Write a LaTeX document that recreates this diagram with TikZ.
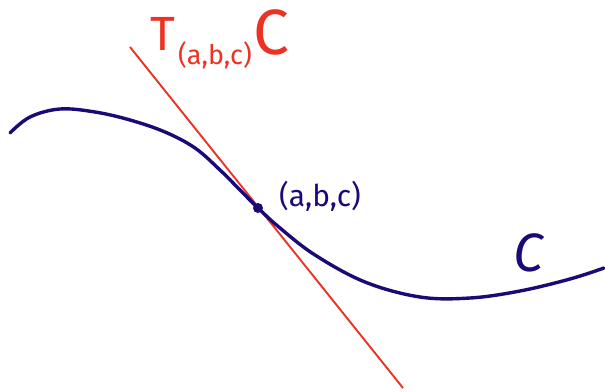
\documentclass[tikz,border=0pt]{standalone}
\usepackage{fontspec}
\setmainfont{Fira Sans}
\begin{document}
\begin{tikzpicture}[x=1pt,y=-1pt,
  curvecol/.style={draw=navyc, line width=3.4pt, line cap=round},
  tanline/.style={draw=redc, line width=1.9pt},
  lbl/.style={inner sep=0pt}]
\definecolor{navyc}{RGB}{25,10,120}
\definecolor{redc}{RGB}{235,50,35}
\useasboundingbox (0,0) rectangle (605,391);
\coordinate (t1) at (130,47);
\coordinate (t2) at (403,388);
\draw[tanline] (t1) -- (t2);
\draw[curvecol] plot[smooth, tension=0.6] coordinates {(10,133) (30,117) (60,109) (95,112) (130,120) (165,132) (195,148) (220,170) (240,190) (258,208) (280,228) (315,255) (365,282) (420,297) (470,298) (520,291) (570,279) (604,268)};
\node[circle, fill=navyc, inner sep=0pt, minimum size=10pt] (p) at (258,208) {};
\node[lbl, text=redc, anchor=base west] (tT) at (150,50) {\fontsize{48}{48}\selectfont T};
\node[lbl, text=redc, anchor=base west] (tsub) at (178,64) {\fontsize{27}{27}\selectfont (a,b,c)};
\node[lbl, text=redc, anchor=base west] (tC) at (253,54) {\fontsize{64}{64}\selectfont C};
\node[lbl, text=navyc, anchor=west] (pl) at (279,196) {\fontsize{30}{30}\selectfont (a,b,c)};
\node[lbl, text=navyc] (cl) at (528,253) {\fontsize{54}{54}\selectfont\itshape C};
\end{tikzpicture}
\end{document}
